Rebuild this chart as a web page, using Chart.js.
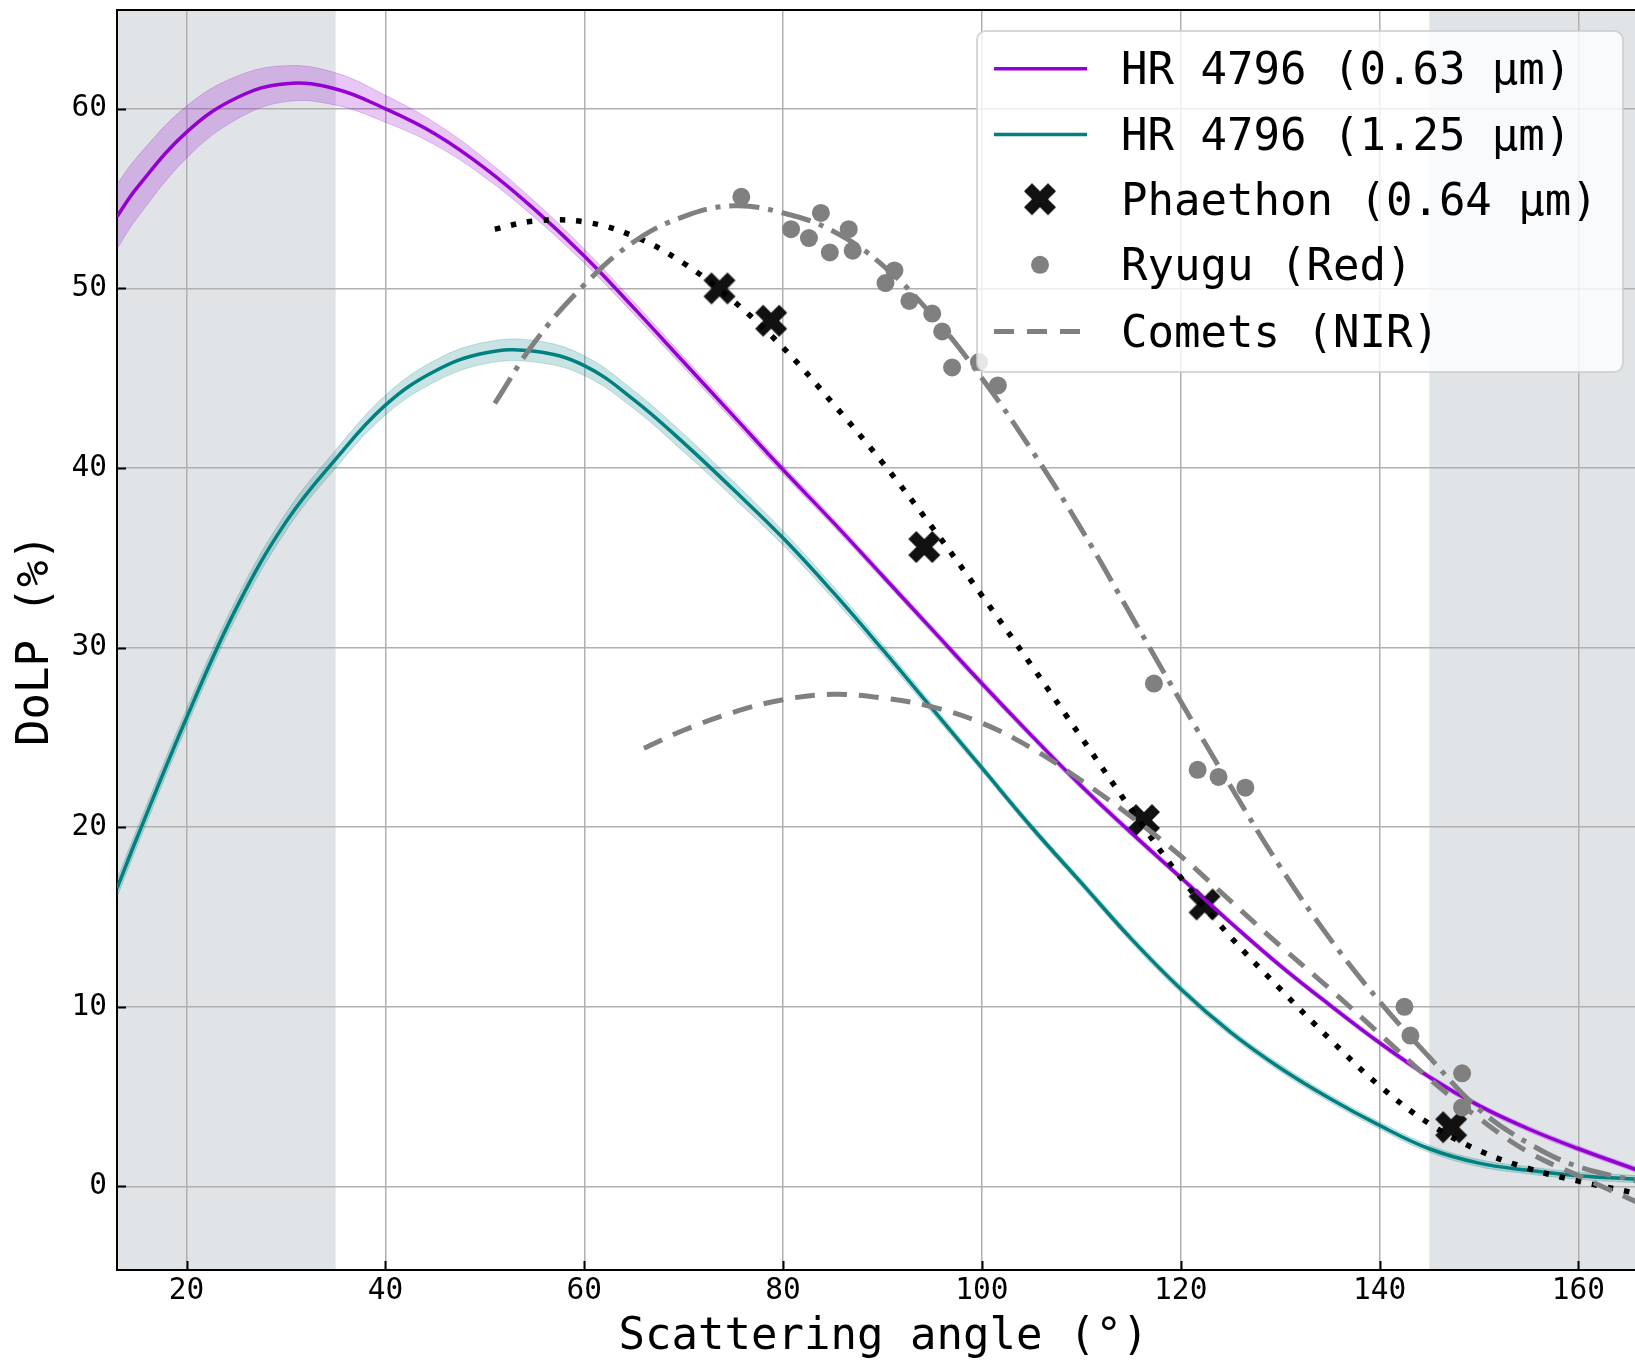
<!DOCTYPE html>
<html>
<head>
<meta charset="utf-8">
<style>
  html, body { margin: 0; padding: 0; overflow: hidden; background: #ffffff; width: 1635px; height: 1362px; }
  canvas { display: block; }
</style>
<script src="https://cdn.jsdelivr.net/npm/chart.js@4"></script>
</head>
<body>
<canvas id="c" width="1650" height="1362"></canvas>
<script>
// ---------------- DATA ----------------
const xTicks = [20, 40, 60, 80, 100, 120, 140, 160];
const yTicks = [0, 10, 20, 30, 40, 50, 60];

const legendLabels = ['HR 4796 (0.63 μm)', 'HR 4796 (1.25 μm)', 'Phaethon (0.64 μm)', 'Ryugu (Red)', 'Comets (NIR)'];

// Shaded (excluded) scattering-angle ranges
const shadedRanges = [[13, 35], [145, 170]];

// HR 4796 model at 0.63 micron (read every 5 deg)
const hr063Angle = [13, 15, 20, 25, 30, 35, 40, 45, 50, 55, 60, 65, 70, 75, 80, 85, 90, 95, 100, 105, 110, 115, 120, 125, 130, 135, 140, 145, 150, 155, 160, 166];
const hr063DoLP  = [54.0, 55.6, 58.7, 60.6, 61.4, 61.1, 60.0, 58.6, 56.7, 54.4, 51.8, 48.9, 45.9, 42.9, 39.9, 37.0, 34.0, 31.0, 28.0, 25.1, 22.3, 19.7, 17.2, 14.7, 12.3, 10.1, 8.0, 6.1, 4.5, 3.2, 2.1, 0.9];
const hr063Err   = [1.8, 1.7, 1.45, 1.2, 1.0, 0.9, 0.75, 0.62, 0.52, 0.45, 0.4, 0.35, 0.3, 0.28, 0.25, 0.22, 0.2, 0.2, 0.2, 0.18, 0.18, 0.18, 0.16, 0.15, 0.15, 0.15, 0.15, 0.15, 0.15, 0.15, 0.15, 0.15];

// HR 4796 model at 1.25 micron (read every 5 deg)
const hr125Angle = [13, 15, 20, 25, 30, 35, 40, 45, 50, 55, 60, 65, 70, 75, 80, 85, 90, 95, 100, 105, 110, 115, 120, 125, 130, 135, 140, 145, 150, 155, 160, 166];
const hr125DoLP  = [16.6, 19.4, 26.1, 32.2, 37.0, 40.5, 43.5, 45.4, 46.4, 46.5, 45.7, 43.8, 41.4, 38.8, 36.1, 33.1, 29.9, 26.6, 23.3, 20.0, 16.9, 13.8, 11.0, 8.6, 6.6, 4.9, 3.4, 2.1, 1.3, 0.9, 0.6, 0.4];
const hr125Err   = [0.5, 0.5, 0.5, 0.5, 0.5, 0.5, 0.55, 0.6, 0.6, 0.6, 0.55, 0.5, 0.5, 0.45, 0.4, 0.35, 0.3, 0.25, 0.2, 0.2, 0.2, 0.2, 0.2, 0.2, 0.2, 0.2, 0.2, 0.2, 0.2, 0.2, 0.2, 0.2];

// Phaethon measurements (0.64 micron)
const phaethonAngle = [73.6, 78.8, 94.2, 116.3, 122.4, 147.2];
const phaethonDoLP  = [50.0, 48.2, 35.6, 20.4, 15.7, 3.3];

// Phaethon fitted curve (dotted)
const phaethonFitAngle = [51, 55, 60, 65, 70, 75, 80, 85, 90, 95, 100, 105, 110, 115, 120, 125, 130, 135, 140, 145, 150, 155, 160, 166];
const phaethonFitDoLP  = [53.3, 53.75, 53.7, 52.9, 51.4, 49.3, 46.7, 43.6, 40.3, 36.7, 32.9, 29.0, 25.0, 21.0, 17.2, 13.9, 11.0, 8.2, 5.6, 3.5, 2.0, 1.0, 0.3, -0.4];

// Ryugu measurements (Red)
const ryuguAngle = [75.8, 80.8, 82.6, 83.8, 84.7, 86.6, 87.0, 90.3, 91.2, 92.7, 95.0, 96.0, 97.0, 99.7, 101.6, 117.3, 121.7, 123.8, 126.5, 142.5, 143.1, 148.3, 148.3];
const ryuguDoLP  = [55.1, 53.3, 52.8, 54.2, 52.0, 53.3, 52.1, 50.3, 51.0, 49.3, 48.6, 47.6, 45.6, 45.9, 44.6, 28.0, 23.2, 22.8, 22.2, 10.0, 8.4, 6.3, 4.4];

// Ryugu fitted curve (dash-dot)
const ryuguFitAngle = [51, 55, 60, 65, 70, 75, 80, 85, 90, 95, 100, 105, 110, 115, 120, 125, 130, 135, 140, 145, 150, 155, 160, 166];
const ryuguFitDoLP  = [43.6, 47.0, 50.2, 52.6, 54.0, 54.6, 54.2, 53.2, 51.3, 48.5, 45.0, 41.0, 36.6, 31.8, 27.0, 22.3, 17.8, 13.8, 10.3, 7.2, 4.3, 2.4, 1.1, 0.3];

// Comets (NIR) curve (dashed)
const cometAngle = [66, 70, 75, 80, 85, 90, 95, 100, 105, 110, 115, 120, 125, 130, 135, 140, 145, 150, 155, 160, 166];
const cometDoLP  = [24.4, 25.4, 26.4, 27.1, 27.4, 27.2, 26.7, 25.8, 24.4, 22.6, 20.6, 18.4, 15.9, 13.4, 11.0, 8.5, 6.0, 3.8, 1.9, 0.6, -0.9];

// ---------------- STYLE / HELPERS ----------------
const FONT = "'DejaVu Sans Mono', monospace";
const PURPLE = '#9400d3';
const TEAL = '#008080';
const GRAY = '#808080';

const toPts = (xs, ys) => xs.map((x, i) => ({ x: x, y: ys[i] }));
const toBand = (xs, ys, es, sgn) => xs.map((x, i) => ({ x: x, y: ys[i] + sgn * es[i] }));

function makeXMarker(size, color) {
  const c = document.createElement('canvas');
  c.width = size; c.height = size;
  const g = c.getContext('2d');
  const p = [[0.25,0],[0.5,0.25],[0.75,0],[1,0.25],[0.75,0.5],[1,0.75],[0.75,1],[0.5,0.75],[0.25,1],[0,0.75],[0.25,0.5],[0,0.25]];
  g.beginPath();
  p.forEach(([px, py], i) => {
    const X = 1 + px * (size - 2), Y = 1 + py * (size - 2);
    if (i) g.lineTo(X, Y); else g.moveTo(X, Y);
  });
  g.closePath();
  g.fillStyle = color;
  g.fill();
  return c;
}
const xMarker = makeXMarker(34, '#111111');

// ---------------- PLUGINS ----------------
const shadePlugin = {
  id: 'shade',
  beforeDraw(chart) {
    const { ctx, chartArea, scales } = chart;
    ctx.save();
    ctx.fillStyle = 'rgba(112,128,144,0.21)';
    shadedRanges.forEach(([a, b]) => {
      const x0 = Math.max(chartArea.left, scales.x.getPixelForValue(a));
      const x1 = Math.min(chartArea.right, scales.x.getPixelForValue(b));
      ctx.fillRect(x0, chartArea.top, x1 - x0, chartArea.bottom - chartArea.top);
    });
    ctx.restore();
  }
};

const framePlugin = {
  id: 'frame',
  afterDatasetsDraw(chart) {
    const { ctx, chartArea, scales } = chart;
    ctx.save();
    ctx.strokeStyle = '#000';
    ctx.lineWidth = 2;
    ctx.beginPath();
    ctx.moveTo(chartArea.left - 1, chartArea.top);
    ctx.lineTo(chartArea.right, chartArea.top);
    ctx.stroke();
    // inward ticks
    ctx.beginPath();
    yTicks.forEach(v => {
      const y = Math.round(scales.y.getPixelForValue(v)) + 0.5;
      ctx.moveTo(chartArea.left, y); ctx.lineTo(chartArea.left + 9, y);
    });
    xTicks.forEach(v => {
      const x = Math.round(scales.x.getPixelForValue(v)) + 0.5;
      ctx.moveTo(x, chartArea.bottom); ctx.lineTo(x, chartArea.bottom - 9);
    });
    ctx.stroke();
    ctx.restore();
  }
};

const legendPlugin = {
  id: 'mplLegend',
  afterDraw(chart) {
    const ctx = chart.ctx;
    ctx.save();
    const bx = 977, by = 31, bw = 646, bh = 341;
    ctx.beginPath();
    ctx.roundRect(bx, by, bw, bh, 9);
    ctx.fillStyle = 'rgba(255,255,255,0.8)';
    ctx.fill();
    ctx.lineWidth = 2;
    ctx.strokeStyle = 'rgba(204,204,204,0.8)';
    ctx.stroke();

    const rows = [68.8, 134.5, 199.2, 264.8, 331.6];
    const hx0 = 994, hx1 = 1087, hc = 1040, tx = 1121;
    ctx.lineCap = 'butt';
    ctx.lineWidth = 3.5; ctx.strokeStyle = PURPLE;
    ctx.beginPath(); ctx.moveTo(hx0, rows[0]); ctx.lineTo(hx1, rows[0]); ctx.stroke();
    ctx.strokeStyle = TEAL;
    ctx.beginPath(); ctx.moveTo(hx0, rows[1]); ctx.lineTo(hx1, rows[1]); ctx.stroke();
    ctx.drawImage(xMarker, hc - xMarker.width / 2, rows[2] - xMarker.height / 2);
    ctx.fillStyle = GRAY;
    ctx.beginPath(); ctx.arc(hc, rows[3], 9, 0, Math.PI * 2); ctx.fill();
    ctx.strokeStyle = GRAY; ctx.lineWidth = 5; ctx.setLineDash([20, 13]);
    ctx.beginPath(); ctx.moveTo(hx0, rows[4]); ctx.lineTo(hx1, rows[4]); ctx.stroke();
    ctx.setLineDash([]);
    ctx.fillStyle = '#000';
    ctx.font = '44px ' + FONT;
    ctx.textBaseline = 'middle';
    ctx.textAlign = 'left';
    legendLabels.forEach((t, i) => ctx.fillText(t, tx, rows[i] + 4));
    ctx.restore();
  }
};

// ---------------- CHART ----------------
const lineBase = { pointRadius: 0, tension: 0.4, fill: false };
const noPad = s => { s.paddingTop = 0; s.paddingBottom = 0; s.paddingLeft = 0; s.paddingRight = 0; };

new Chart(document.getElementById('c'), {
  type: 'line',
  data: {
    datasets: [
      Object.assign({}, lineBase, { label: 'Comets (NIR)', data: toPts(cometAngle, cometDoLP), borderColor: GRAY, borderWidth: 5, borderDash: [20, 12], order: 1 }),
      Object.assign({}, lineBase, { label: 'Ryugu fit', data: toPts(ryuguFitAngle, ryuguFitDoLP), borderColor: GRAY, borderWidth: 5, borderDash: [30, 9, 5, 9], order: 2 }),
      { label: 'Ryugu (Red)', data: toPts(ryuguAngle, ryuguDoLP), showLine: false, pointRadius: 9, pointBackgroundColor: GRAY, pointBorderWidth: 0, pointBorderColor: GRAY, order: 3 },
      Object.assign({}, lineBase, { label: 'Phaethon fit', data: toPts(phaethonFitAngle, phaethonFitDoLP), borderColor: '#000', borderWidth: 5.5, borderDash: [5.5, 11], order: 4 }),
      Object.assign({}, lineBase, { label: 'HR 4796 (0.63 μm)', data: toPts(hr063Angle, hr063DoLP), borderColor: PURPLE, borderWidth: 3.5, order: 5 }),
      Object.assign({}, lineBase, { label: 'HR 4796 (1.25 μm)', data: toPts(hr125Angle, hr125DoLP), borderColor: TEAL, borderWidth: 3.5, order: 6 }),
      { label: 'Phaethon (0.64 μm)', data: toPts(phaethonAngle, phaethonDoLP), showLine: false, pointStyle: xMarker, pointRadius: 17, order: 7 },
      Object.assign({}, lineBase, { label: 'band063 hi', data: toBand(hr063Angle, hr063DoLP, hr063Err, 1), borderColor: 'rgba(148,0,211,0.22)', borderWidth: 1, backgroundColor: 'rgba(148,0,211,0.22)', fill: '+1', order: 8 }),
      Object.assign({}, lineBase, { label: 'band063 lo', data: toBand(hr063Angle, hr063DoLP, hr063Err, -1), borderColor: 'rgba(148,0,211,0.22)', borderWidth: 1, order: 8 }),
      Object.assign({}, lineBase, { label: 'band125 hi', data: toBand(hr125Angle, hr125DoLP, hr125Err, 1), borderColor: 'rgba(0,128,128,0.22)', borderWidth: 1, backgroundColor: 'rgba(0,128,128,0.22)', fill: '+1', order: 9 }),
      Object.assign({}, lineBase, { label: 'band125 lo', data: toBand(hr125Angle, hr125DoLP, hr125Err, -1), borderColor: 'rgba(0,128,128,0.22)', borderWidth: 1, order: 9 })
    ]
  },
  options: {
    responsive: false,
    animation: false,
    events: [],
    layout: { autoPadding: false, padding: { top: 10, left: 0, right: 0, bottom: 0 } },
    plugins: { legend: { display: false }, tooltip: { enabled: false } },
    scales: {
      x: {
        type: 'linear',
        min: 13.0,
        max: 167.2,
        afterBuildTicks: s => { s.ticks = xTicks.map(v => ({ value: v })); },
        afterFit: s => { s.height = 92; noPad(s); },
        grid: { color: '#b0b0b0', lineWidth: 1.5, drawTicks: false },
        border: { display: true, color: '#000', width: 2 },
        ticks: { color: '#000', font: { family: FONT, size: 29.5 }, padding: 4, maxRotation: 0, autoSkip: false },
        title: { display: true, text: 'Scattering angle (°)', color: '#000', font: { family: FONT, size: 44, lineHeight: 1.1 }, padding: { top: 0, bottom: 0 } }
      },
      y: {
        type: 'linear',
        min: -4.65,
        max: 65.5,
        afterBuildTicks: s => { s.ticks = yTicks.map(v => ({ value: v })); },
        afterFit: s => { s.width = 117; noPad(s); },
        grid: { color: '#b0b0b0', lineWidth: 1.5, drawTicks: false },
        border: { display: true, color: '#000', width: 2 },
        ticks: { color: '#000', font: { family: FONT, size: 29.5 }, padding: 10, autoSkip: false },
        title: { display: true, text: 'DoLP (%)', color: '#000', font: { family: FONT, size: 44, lineHeight: 1.1 }, padding: { top: 12, bottom: 0 } }
      }
    }
  },
  plugins: [shadePlugin, framePlugin, legendPlugin]
});
</script>
</body>
</html>
